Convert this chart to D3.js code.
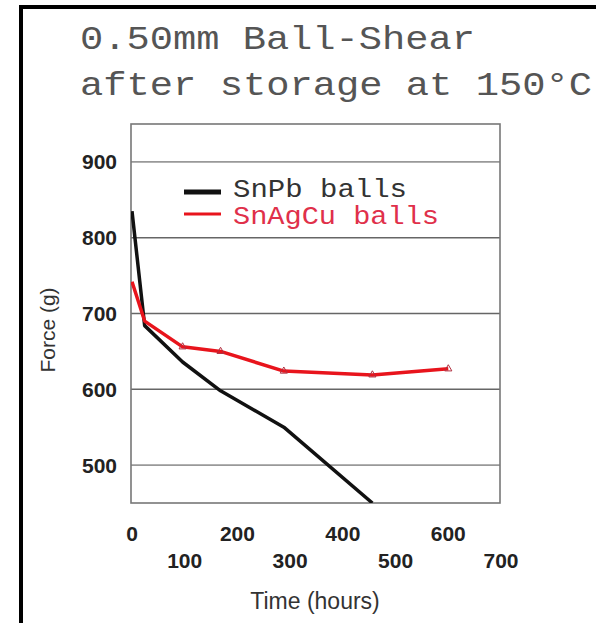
<!DOCTYPE html>
<html>
<head>
<meta charset="utf-8">
<script src="https://cdn.jsdelivr.net/npm/d3@7"></script>
<style>
  body { margin: 0; background: #fff; }
  svg { display: block; }
</style>
</head>
<body>
<svg id="chart" width="596" height="623"></svg>
<script>
// values
const snpbHours = [0, 24, 96, 168, 288, 456];
const snpbForce = [835, 684, 636, 598, 550, 450];
const sacHours = [0, 24, 96, 168, 288, 456, 600];
const sacForce = [742, 690, 656, 650, 624, 619, 627];
const yTicks = [500, 600, 700, 800, 900];
const xTicks = [0, 100, 200, 300, 400, 500, 600, 700];
const titleLines = ["0.50mm Ball-Shear", "after storage at 150°C"];
const seriesNames = ["SnPb balls", "SnAgCu balls"];

const svg = d3.select("#chart");

const plotLeft = 131, plotRight = 500, plotTop = 124, plotBottom = 503;

const x = d3.scaleLinear().domain([0, 700]).range([plotLeft + 1, plotRight + 1]);
const y = d3.scaleLinear().domain([450, 950]).range([plotBottom, plotTop]);

// outer frame (only left + top edges visible)
svg.append("path")
  .attr("d", `M21,623 L21,7 L596,7`)
  .attr("fill", "none")
  .attr("stroke", "#000")
  .attr("stroke-width", 4);

// title
svg.selectAll("text.title")
  .data(titleLines)
  .join("text")
  .attr("class", "title")
  .attr("x", 80)
  .attr("y", (d, i) => 49 + i * 46)
  .attr("font-family", "Liberation Mono, monospace")
  .attr("font-size", 34)
  .attr("fill", "#555")
  .attr("textLength", (d, i) => i == 0 ? 395 : 512)
  .attr("lengthAdjust", "spacingAndGlyphs")
  .text(d => d);

// gridlines
svg.append("g")
  .selectAll("line")
  .data(yTicks)
  .join("line")
  .attr("x1", plotLeft)
  .attr("x2", plotRight)
  .attr("y1", d => y(d))
  .attr("y2", d => y(d))
  .attr("stroke", d => (d == 900 || d == 500) ? "#999" : "#666")
  .attr("stroke-width", 1.6);

// plot frame
svg.append("rect")
  .attr("x", plotLeft)
  .attr("y", plotTop)
  .attr("width", plotRight - plotLeft)
  .attr("height", plotBottom - plotTop)
  .attr("fill", "none")
  .attr("stroke", "#777")
  .attr("stroke-width", 1.6);

// y tick labels
svg.append("g")
  .selectAll("text")
  .data(yTicks)
  .join("text")
  .attr("x", 117)
  .attr("y", d => y(d))
  .attr("dy", "0.36em")
  .attr("text-anchor", "end")
  .attr("font-family", "Liberation Sans, Arial, sans-serif")
  .attr("font-weight", "bold")
  .attr("font-size", 21)
  .attr("fill", "#222")
  .text(d => d);

// x tick labels, staggered
svg.append("g")
  .selectAll("text")
  .data(xTicks)
  .join("text")
  .attr("x", d => x(d))
  .attr("y", (d, i) => i % 2 == 0 ? 541 : 568)
  .attr("text-anchor", "middle")
  .attr("font-family", "Liberation Sans, Arial, sans-serif")
  .attr("font-weight", "bold")
  .attr("font-size", 21)
  .attr("fill", "#222")
  .text(d => d);

// axis titles
svg.append("text")
  .attr("x", 315)
  .attr("y", 609)
  .attr("text-anchor", "middle")
  .attr("font-family", "Liberation Sans, Arial, sans-serif")
  .attr("font-size", 23)
  .attr("fill", "#333")
  .text("Time (hours)");

svg.append("text")
  .attr("transform", "translate(55,330) rotate(-90)")
  .attr("text-anchor", "middle")
  .attr("font-family", "Liberation Sans, Arial, sans-serif")
  .attr("font-size", 21)
  .attr("fill", "#333")
  .text("Force (g)");

// clip to plot area
svg.append("clipPath")
  .attr("id", "plotclip")
  .append("rect")
  .attr("x", plotLeft)
  .attr("y", plotTop)
  .attr("width", plotRight - plotLeft)
  .attr("height", plotBottom - plotTop);

const line = d3.line()
  .x(d => x(d[0]))
  .y(d => y(d[1]));

const sacData = d3.zip(sacHours, sacForce);
const snpbData = d3.zip(snpbHours, snpbForce);

const plot = svg.append("g").attr("clip-path", "url(#plotclip)");

plot.append("path")
  .datum(snpbData)
  .attr("d", line)
  .attr("fill", "none")
  .attr("stroke", "#111")
  .attr("stroke-width", 3.5)
  .attr("stroke-linejoin", "round");

plot.append("path")
  .datum(sacData)
  .attr("d", line)
  .attr("fill", "none")
  .attr("stroke", "#e8141c")
  .attr("stroke-width", 3.5)
  .attr("stroke-linejoin", "round");

// small triangle markers on the SnAgCu series
plot.selectAll("path.mk")
  .data(sacData.slice(2))
  .join("path")
  .attr("class", "mk")
  .attr("transform", d => `translate(${x(d[0])},${y(d[1])})`)
  .attr("d", d3.symbol(d3.symbolTriangle, 22))
  .attr("fill", "none")
  .attr("stroke", "#b03040")
  .attr("stroke-width", 1);

// legend
const legend = svg.append("g");
const legColors = ["#111", "#e8141c"];
const legText = ["#333", "#e0304a"];
const legWidths = [5, 3];

legend.selectAll("line")
  .data(seriesNames)
  .join("line")
  .attr("x1", 184)
  .attr("x2", 221)
  .attr("y1", (d, i) => 192 + i * 22)
  .attr("y2", (d, i) => 192 + i * 22)
  .attr("stroke", (d, i) => legColors[i])
  .attr("stroke-width", (d, i) => legWidths[i]);

legend.selectAll("text")
  .data(seriesNames)
  .join("text")
  .attr("x", 233)
  .attr("y", (d, i) => 197 + i * 27)
  .attr("font-family", "Liberation Mono, monospace")
  .attr("font-size", 25)
  .attr("fill", (d, i) => legText[i])
  .attr("textLength", (d, i) => i == 0 ? 174 : 206)
  .attr("lengthAdjust", "spacingAndGlyphs")
  .text(d => d);
</script>
</body>
</html>
